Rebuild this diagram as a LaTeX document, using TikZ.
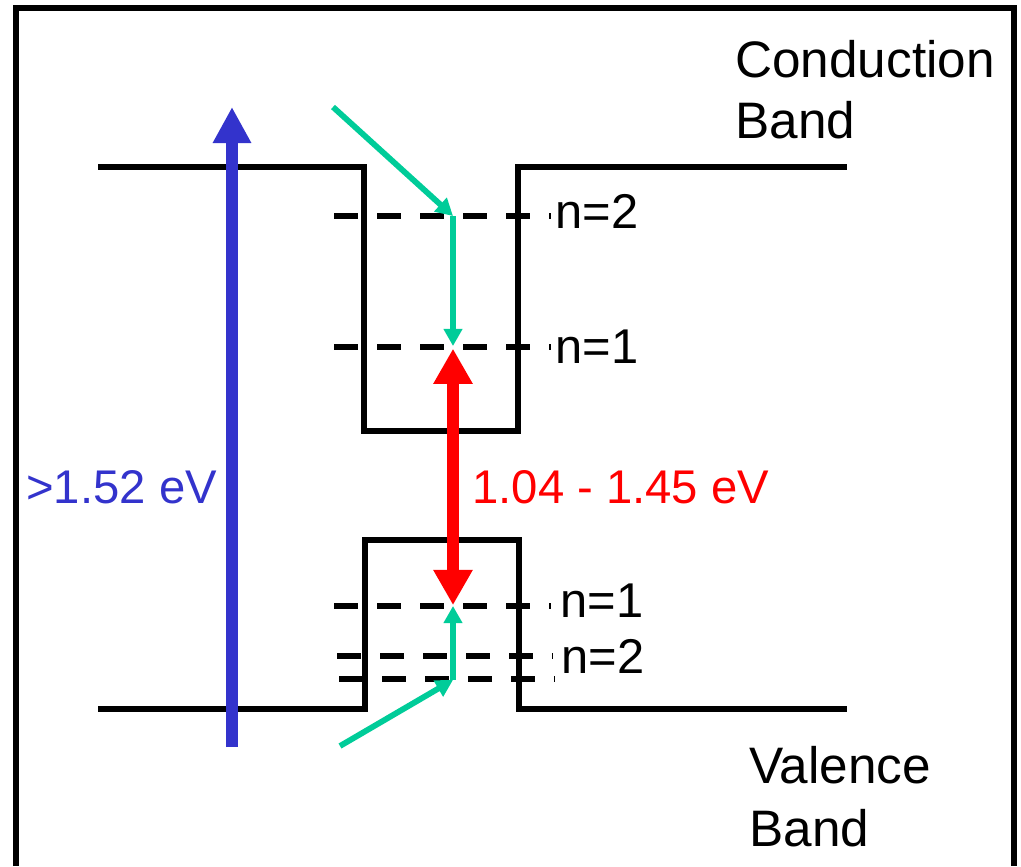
\documentclass[tikz,border=0pt]{standalone}
\usepackage{fontspec}
\setmainfont{Liberation Sans}
\usetikzlibrary{arrows.meta,positioning}
\definecolor{pumpblue}{RGB}{51,51,204}
\definecolor{relaxgreen}{RGB}{0,204,153}
\definecolor{emitred}{RGB}{255,0,0}
\tikzset{
    bandedge/.style={draw=black, line width=3.4pt, line join=miter},
    levelline/.style={draw=black, line width=3.4pt, dash pattern=on 13.7pt off 10.8pt},
    framebox/.style={draw=black, line width=3.4pt},
    bandlabel/.style={anchor=base west, inner sep=0pt, font=\fontsize{27.8}{34.7}\selectfont},
    bandtitle/.style={bandlabel, font=\fontsize{29.2}{34.7}\selectfont},
    energylabel/.style={bandlabel, font=\fontsize{26.9}{34.7}\selectfont},
    pumparrow/.style={-{Triangle[length=20.5pt, width=20.5pt]}, line width=6.8pt, draw=pumpblue},
    emitarrow/.style={{Triangle[length=20pt, width=21pt]}-{Triangle[length=20pt, width=21pt]}, line width=6.8pt, draw=emitred},
    relaxarrow/.style={-{Triangle[length=9.7pt, width=10.2pt]}, line width=3.3pt, draw=relaxgreen},
}

\begin{document}
\begin{tikzpicture}[x=0.02cm, y=-0.02cm]
    \useasboundingbox (0,0) rectangle (1021,866);
    \draw[framebox] (16,866) -- (16,8) -- (1014,8) -- (1014,866);

    % band edges
    \draw[bandedge] (98,167) -- (364,167) -- (364,431) -- (518,431) -- (518,167) -- (847,167);
    \draw[bandedge] (98,709) -- (365,709) -- (365,540) -- (519,540) -- (519,709) -- (847,709);

    % confined levels
    \draw[levelline] (334,216) -- (551,216);
    \draw[levelline] (334,347) -- (551,347);
    \draw[levelline] (334,606) -- (551,606);
    \draw[levelline] (337,656) -- (553,656);
    \draw[levelline] (339,679) -- (555,679);

    \coordinate (pumpbot) at (232,747);
    \coordinate (pumptop) at (232,107);
    \coordinate (cin) at (333,107);
    \coordinate (cn2) at (453,216);
    \coordinate (cn1) at (453,346);
    \coordinate (vn1) at (453,606);
    \coordinate (vn2) at (453,680);
    \coordinate (vin) at (340,746);

    \node[bandtitle] (cblabel) at (735,77) {Conduction};
    \node[bandtitle] (cbband) at (735,138) {Band};
    \node[bandtitle] (vblabel) at (749,783) {Valence};
    \node[bandtitle] (vbband) at (749,846) {Band};
    \node[bandlabel] (cn2label) at (555,228) {n=2};
    \node[bandlabel] (cn1label) at (555,363) {n=1};
    \node[bandlabel] (vn1label) at (560,617) {n=1};
    \node[bandlabel] (vn2label) at (561,673) {n=2};
    \node[energylabel, text=pumpblue] (pumplabel) at (26,503) {>1.52 eV};
    \node[energylabel, text=emitred] (emitlabel) at (472,503) {1.04 - 1.45 eV};

    \draw[pumparrow] (pumpbot) -- (pumptop);
    \draw[relaxarrow] (cin) -- (cn2);
    \draw[relaxarrow] (cn2) -- (cn1);
    \draw[relaxarrow] (vin) -- (vn2);
    \draw[relaxarrow] (vn2) -- (vn1);
    \draw[emitarrow, shorten <=1.5pt, shorten >=0.5pt] (cn1) -- (vn1);
\end{tikzpicture}
\end{document}
